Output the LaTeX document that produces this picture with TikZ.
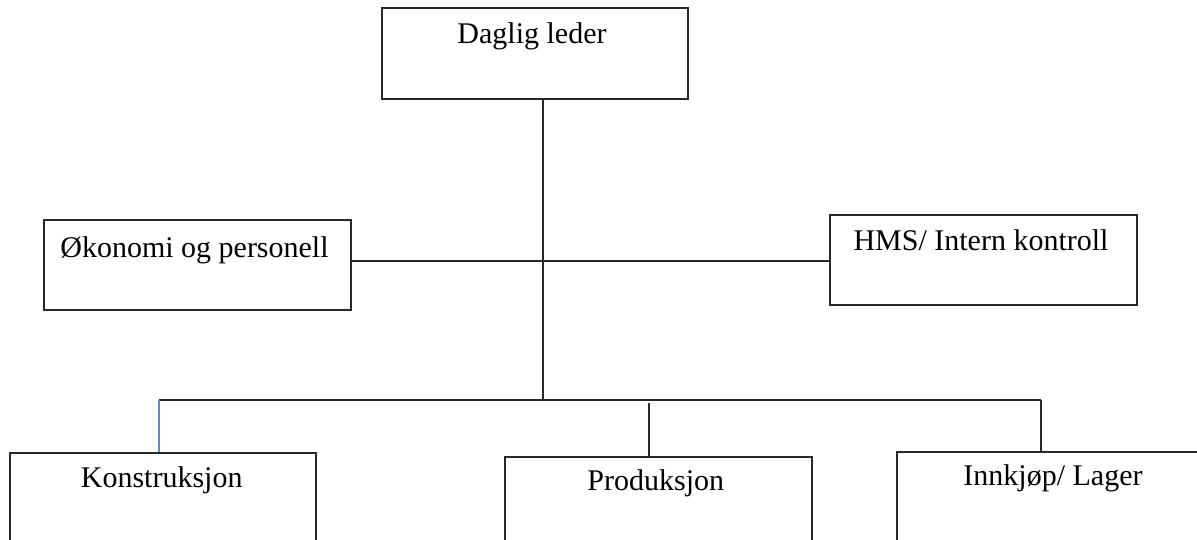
\documentclass[tikz,border=0pt]{standalone}
\usepackage{fontspec}
\setmainfont{Liberation Serif}
\definecolor{linegray}{RGB}{40,40,40}
\definecolor{connblue}{RGB}{95,135,200}
\tikzset{
  box/.style={draw=linegray, line width=1.5pt, rectangle, inner sep=0pt, anchor=north west},
  lbl/.style={inner sep=0pt, anchor=base, font=\fontsize{30}{36}\selectfont, text=black},
  conn/.style={draw=linegray, line width=1.5pt},
  connb/.style={draw=connblue, line width=1.2pt}
}
\begin{document}
\begin{tikzpicture}[x=1pt, y=-1pt]
\useasboundingbox (0,0) rectangle (1197,539);
\clip (0,0) rectangle (1197,539);
% boxes
\node[box, minimum width=306pt, minimum height=91pt] (top) at (381,7) {};
\node[box, minimum width=307pt, minimum height=90pt] (oko) at (43,219) {};
\node[box, minimum width=307pt, minimum height=90pt] (hms) at (829,214) {};
\node[box, minimum width=306pt, minimum height=120pt] (kon) at (9,452) {};
\node[box, minimum width=307pt, minimum height=120pt] (pro) at (504,456) {};
\node[box, minimum width=320pt, minimum height=120pt] (inn) at (896,451) {};
% labels
\node[lbl] (ttop) at (532,43) {Daglig leder};
\node[lbl] (toko) at (194.5,257) {Økonomi og personell};
\node[lbl] (thms) at (981,250) {HMS/ Intern kontroll};
\node[lbl] (tkon) at (161.7,487) {Konstruksjon};
\node[lbl] (tpro) at (655.8,490) {Produksjon};
\node[lbl] (tinn) at (1053,485) {Innkjøp/ Lager};
% junctions
\coordinate (j1) at (543,261);
\coordinate (bus) at (543,400);
\coordinate (busL) at (159,400);
\coordinate (busR) at (1041,400);
\coordinate (midtop) at (649,403);
% connectors
\draw[conn] (j1 |- top.south) -- (bus);
\draw[conn] (oko.east |- j1) -- (hms.west |- j1);
\draw[conn] (busL) -- (busR);
\draw[connb] (busL) -- (busL |- kon.north);
\draw[conn] (midtop) -- (midtop |- pro.north);
\draw[conn] (busR) -- (busR |- inn.north);
\end{tikzpicture}
\end{document}
